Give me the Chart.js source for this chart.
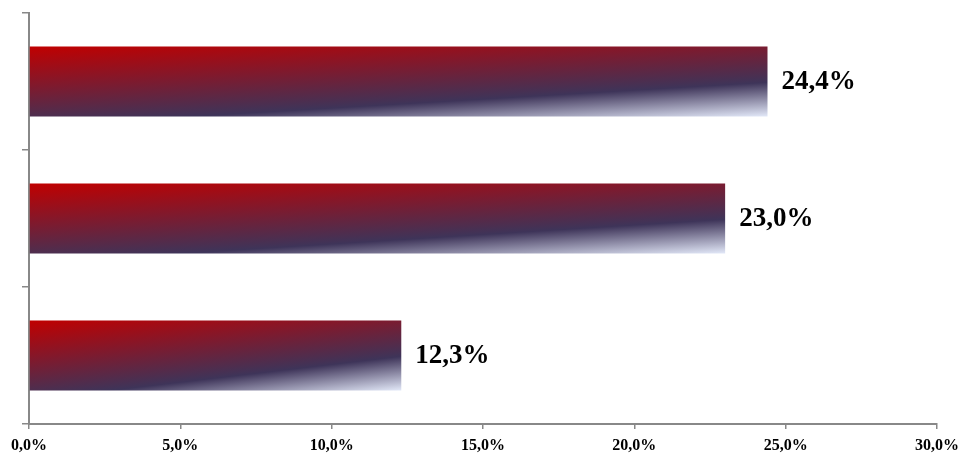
<!DOCTYPE html>
<html>
<head>
<meta charset="utf-8">
<script src="https://cdn.jsdelivr.net/npm/chart.js@4/dist/chart.umd.min.js"></script>
<style>
  html, body { margin: 0; padding: 0; background: #fff; }
  #wrap { width: 972px; height: 455px; }
</style>
</head>
<body>
<div id="wrap"><canvas id="c"></canvas></div>
<script>
// categories have no visible label in the original
const categories = ['1', '2', '3'];
const values = [24.4, 23.0, 12.3];
const xTicks = [0, 5, 10, 15, 20, 25, 30];

const BAR_PCT = 0.51;
const fmt = v => v.toFixed(1).replace('.', ',') + '%';

// diagonal gradient scaled to each bar: red -> navy -> pale blue
function barGradient(ctx) {
  const chart = ctx.chart;
  if (!chart.chartArea) return '#C00000';
  const xs = chart.scales.x, ys = chart.scales.y;
  const x0 = xs.getPixelForValue(0);
  const x1 = xs.getPixelForValue(ctx.raw);
  const h = ys.height / categories.length * BAR_PCT;
  const top = ys.getPixelForValue(ctx.dataIndex) - h / 2;
  const w = Math.max(x1 - x0, 1);
  const ang = 58 * Math.PI / 180;
  const c = Math.cos(ang), s = Math.sin(ang);
  const t = (c + s) / (c * c / (w * w) + s * s / (h * h));
  const g = chart.ctx.createLinearGradient(x0, top, x0 + t * c / w, top + t * s / h);
  g.addColorStop(0, '#C00000');
  g.addColorStop(0.36, '#7E1A2E');
  g.addColorStop(0.70, '#3E3459');
  g.addColorStop(1, '#E2E8F8');
  return g;
}

const valueLabels = {
  id: 'valueLabels',
  afterDatasetsDraw(chart) {
    const ctx = chart.ctx;
    const meta = chart.getDatasetMeta(0);
    ctx.save();
    ctx.font = 'bold 27px "Liberation Serif", "Times New Roman", serif';
    ctx.fillStyle = '#000';
    ctx.textAlign = 'left';
    ctx.textBaseline = 'middle';
    meta.data.forEach((el, i) => {
      ctx.fillText(fmt(values[i]), el.x + 14, el.y + 1);
    });
    ctx.restore();
  }
};

new Chart(document.getElementById('c'), {
  type: 'bar',
  data: {
    labels: categories,
    datasets: [{
      data: values,
      backgroundColor: barGradient,
      borderWidth: 0,
      barPercentage: BAR_PCT,
      categoryPercentage: 1
    }]
  },
  options: {
    indexAxis: 'y',
    responsive: true,
    maintainAspectRatio: false,
    animation: false,
    layout: { padding: { left: 22, right: 35, top: 13, bottom: 1 } },
    scales: {
      x: {
        min: 0,
        max: 30,
        afterBuildTicks: axis => { axis.ticks = xTicks.map(v => ({ value: v })); },
        afterFit: axis => { axis.height = 30; },
        grid: { drawOnChartArea: false, drawTicks: true, tickLength: 5, color: '#888', lineWidth: 1.5 },
        border: { color: '#888', width: 2 },
        ticks: {
          padding: 7,
          color: '#000',
          maxRotation: 0,
          font: { family: '"Liberation Serif", "Times New Roman", serif', size: 16, weight: 'bold' },
          callback: v => fmt(v)
        }
      },
      y: {
        grid: { drawOnChartArea: false, drawTicks: true, tickLength: 7, offset: true, color: '#888', lineWidth: 1.5 },
        border: { color: '#888', width: 2 },
        ticks: { display: false }
      }
    },
    plugins: {
      legend: { display: false },
      tooltip: { enabled: false }
    }
  },
  plugins: [valueLabels]
});
</script>
</body>
</html>
